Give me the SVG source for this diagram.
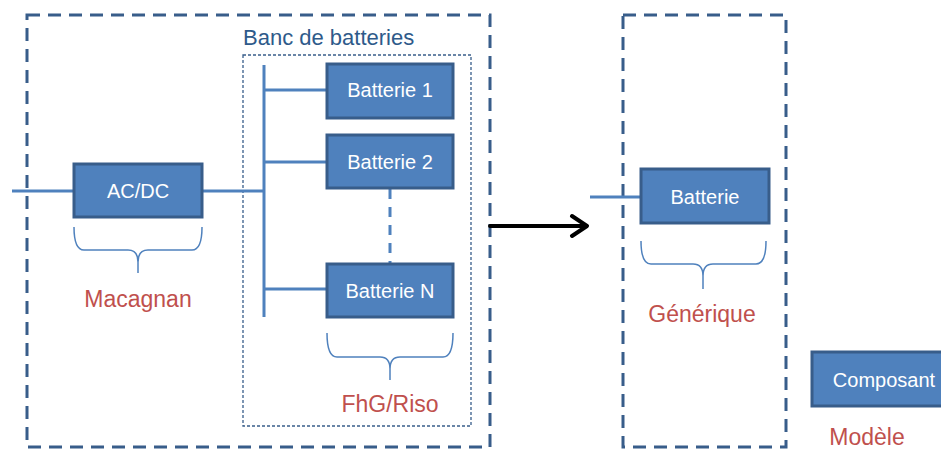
<svg xmlns="http://www.w3.org/2000/svg" width="941" height="449" viewBox="0 0 941 449">
<defs>
<style>
.frame{fill:none;stroke:#385D8A;stroke-width:3;stroke-dasharray:13 8}
.inner{fill:none;stroke:#385D8A;stroke-width:1.3;stroke-dasharray:3 2}
.box{fill:#4F81BD;stroke:#385D8A;stroke-width:3}
.bt{fill:#fff;font-family:"Liberation Sans",Arial,sans-serif;font-size:20px;text-anchor:middle}
.wire{fill:none;stroke:#4F81BD;stroke-width:3}
.brace{fill:none;stroke:#4F81BD;stroke-width:1.5}
.lbl{fill:#C0504D;font-family:"Liberation Sans",Arial,sans-serif;font-size:23px;text-anchor:middle}
.title{fill:#2E5A8A;font-family:"Liberation Sans",Arial,sans-serif;font-size:22px}
</style>
</defs>
<rect class="frame" x="27" y="15" width="463" height="432"/>
<rect class="inner" x="243" y="55" width="228" height="371"/>
<text class="title" x="243" y="45">Banc de batteries</text>
<rect class="frame" x="623" y="15" width="163" height="432"/>
<g id="connectors">
<path class="wire" d="M12,191 H74 M202,191 H264 M264,65 V317 M264,90 H327 M264,162 H327 M264,289 H327 M590,197 H641"/>
<path class="wire" d="M390,189 V263" stroke-dasharray="10 8"/>
<path d="M490,226 H586 M572,216 L587,226 L572,236" fill="none" stroke="#000" stroke-width="4" stroke-linecap="round" stroke-linejoin="round"/>
</g>
<g id="acdc"><rect class="box" x="74" y="164" width="128" height="53"/><text class="bt" x="138" y="198" font-size="19">AC/DC</text></g>
<g id="batterie1"><rect class="box" x="327" y="64" width="126" height="54"/><text class="bt" x="390" y="97">Batterie 1</text></g>
<g id="batterie2"><rect class="box" x="327" y="135" width="126" height="53"/><text class="bt" x="390" y="169">Batterie 2</text></g>
<g id="batterieN"><rect class="box" x="327" y="264" width="126" height="53"/><text class="bt" x="390" y="298">Batterie N</text></g>
<g id="batterie"><rect class="box" x="641" y="169" width="128" height="54"/><text class="bt" x="705" y="204">Batterie</text></g>
<g id="composant"><rect class="box" x="812" y="352" width="132" height="54"/><text class="bt" x="884" y="387">Composant</text></g>
<g id="macagnan"><path class="brace" d="M74,227 Q74,250 84,250 H128 Q138,250 138,262 V273 M138,262 Q138,250 148,250 H192 Q202,250 202,227"/><text class="lbl" x="138" y="307">Macagnan</text></g>
<g id="fhg"><path class="brace" d="M327,333 Q327,357 337,357 H380 Q390,357 390,369 V380 M390,369 Q390,357 400,357 H443 Q453,357 453,333"/><text class="lbl" x="390" y="412">FhG/Riso</text></g>
<g id="generique"><path class="brace" d="M641,241 Q641,264 651,264 H693 Q703,264 703,276 V289 M703,276 Q703,264 713,264 H756 Q766,264 766,241"/><text class="lbl" x="702" y="322">Générique</text></g>
<g id="modele"><text class="lbl" x="867" y="445">Modèle</text></g>
</svg>
